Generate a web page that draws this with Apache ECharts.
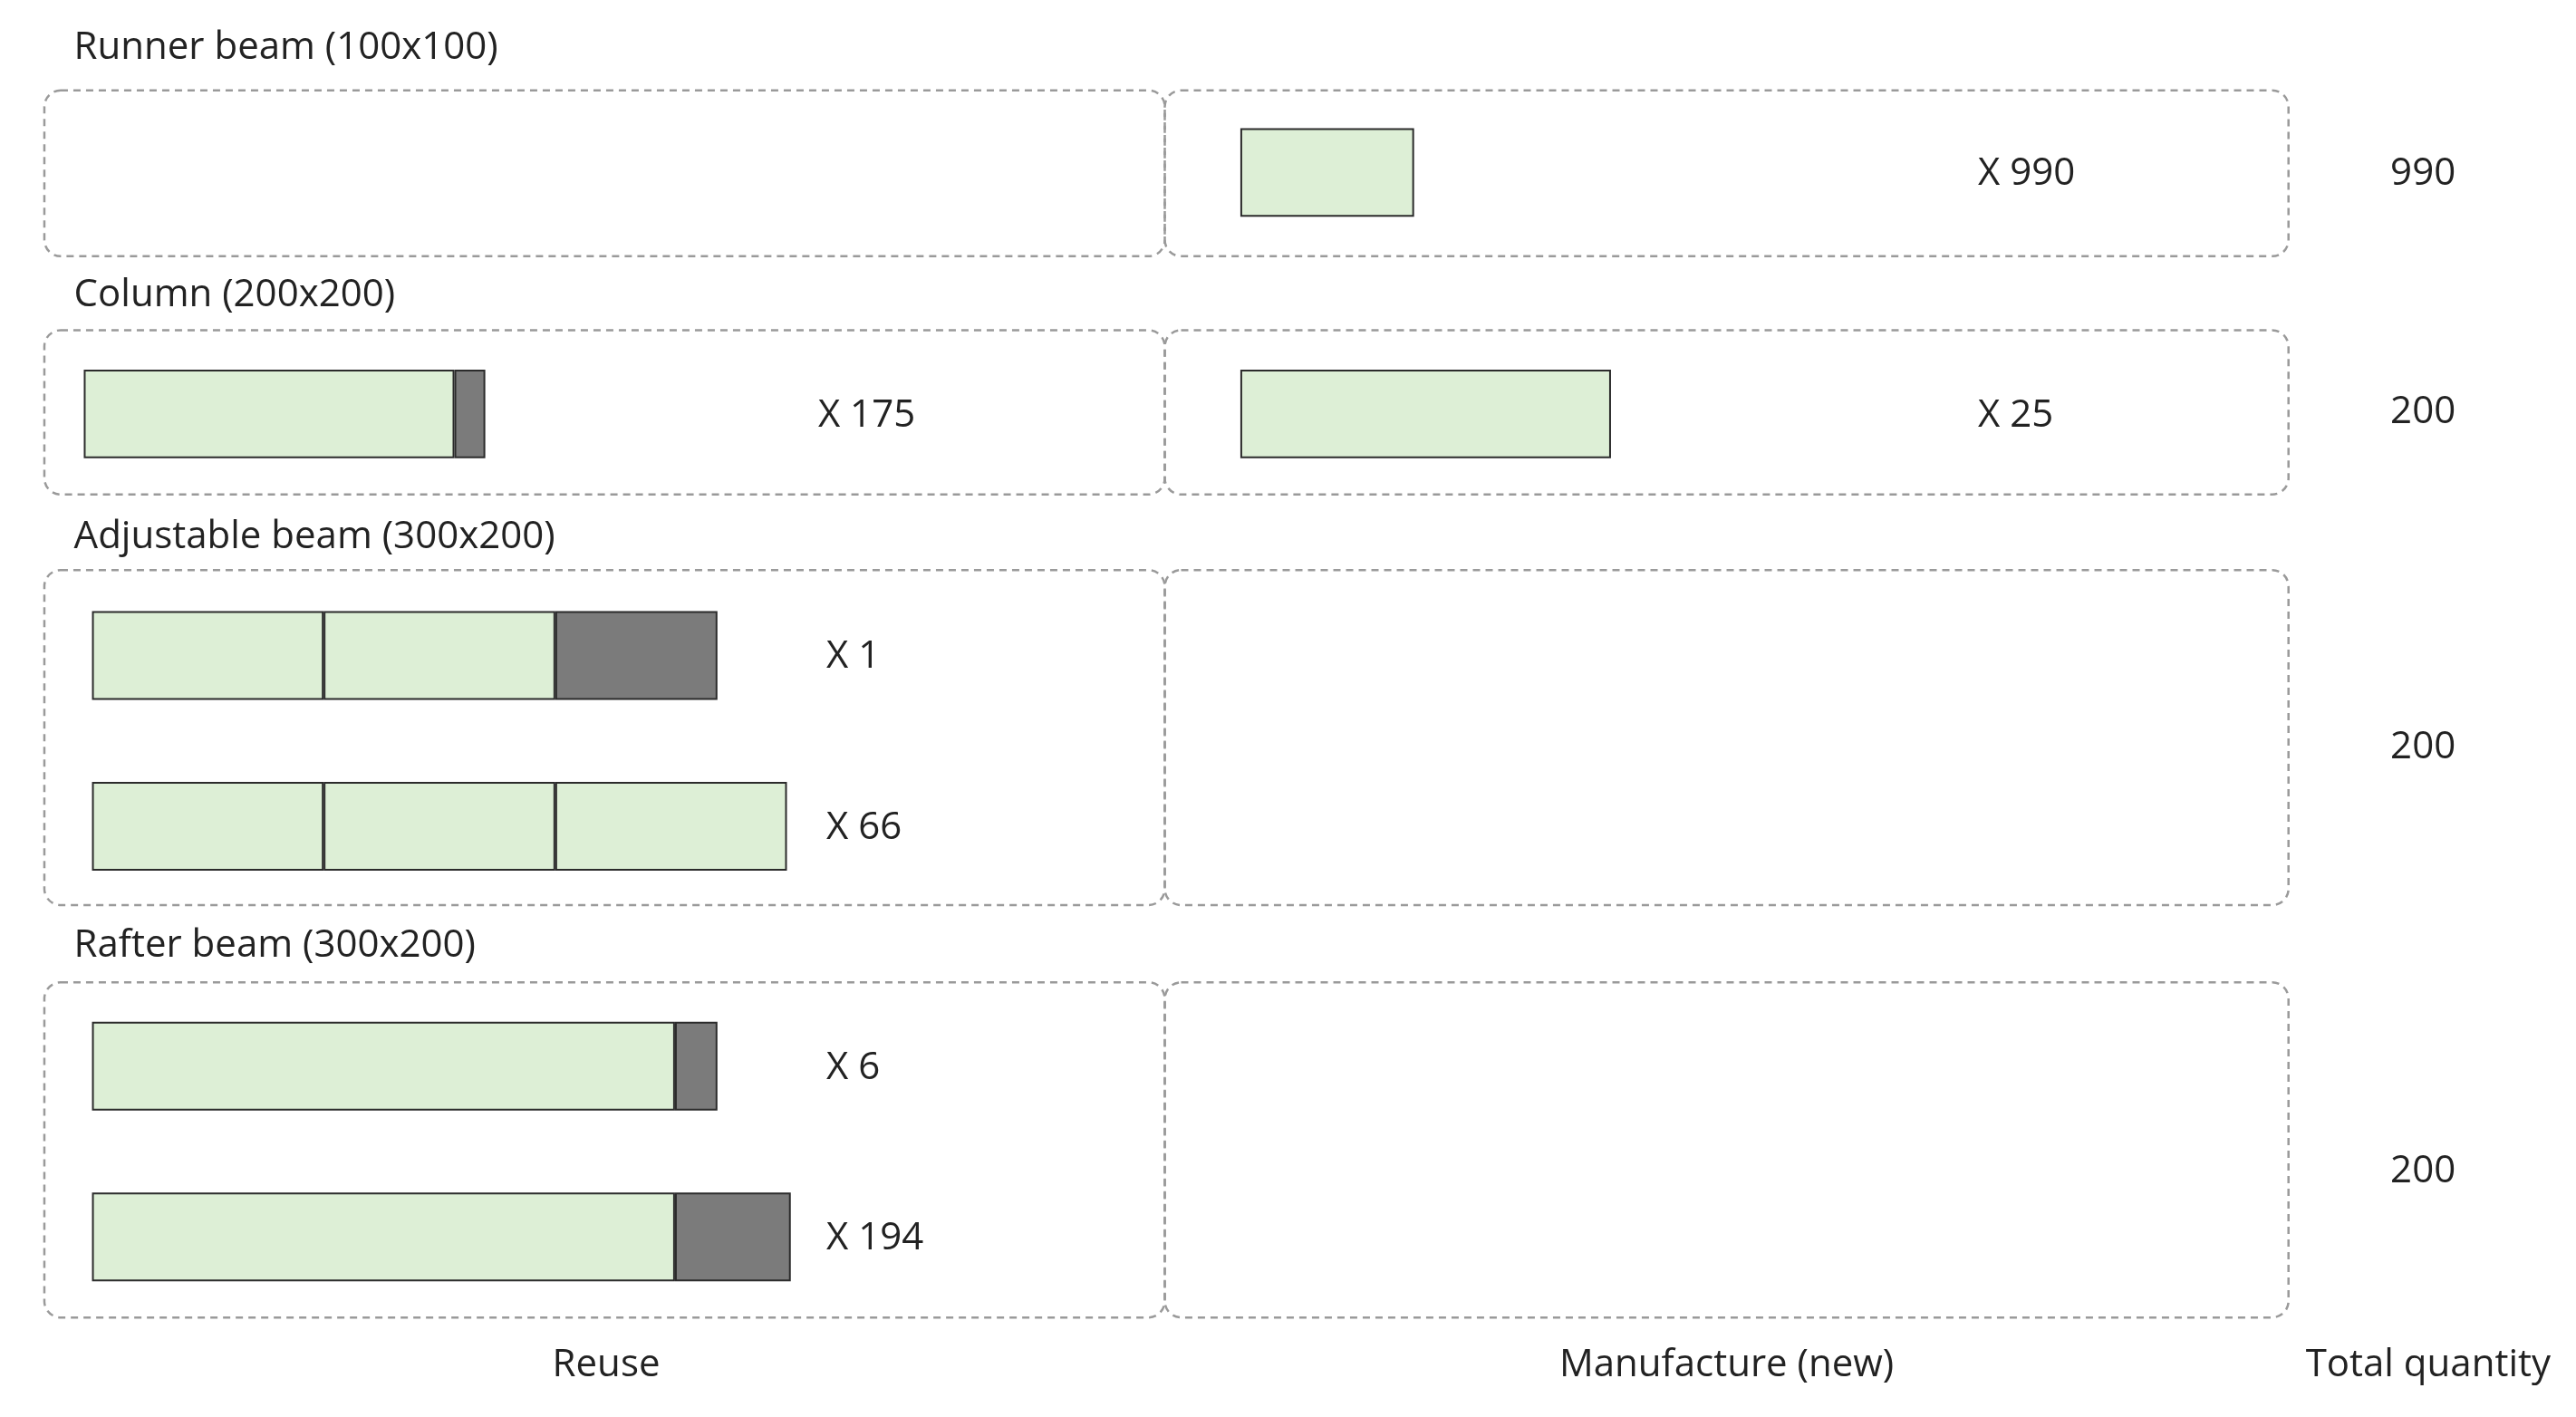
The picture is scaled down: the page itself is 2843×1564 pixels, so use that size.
<!DOCTYPE html>
<html>
<head>
<meta charset="utf-8">
<script src="https://cdn.jsdelivr.net/npm/echarts@6/dist/echarts.min.js"></script>
<style>html,body{margin:0;background:#fff}#c{width:2843px;height:1564px}</style>
</head>
<body>
<div id="c"></div>
<script>
// segment lengths in metres, green = usable, grey = offcut
var rowNames = ['runnerNew', 'columnReuse', 'columnNew', 'adj1', 'adj2', 'raft1', 'raft2'];
var segValues = [[2.25], [4.8, 0.4], [4.8], [3, 3, 2.1], [3, 3, 3], [7.55, 0.55], [7.55, 1.5]];
var segKinds = [['g'], ['g', 'x'], ['g'], ['g', 'g', 'x'], ['g', 'g', 'g'], ['g', 'x'], ['g', 'x']];
var counts = ['X 990', 'X 175', 'X 25', 'X 1', 'X 66', 'X 6', 'X 194'];
var groupTitles = ['Runner beam (100x100)', 'Column (200x200)', 'Adjustable beam (300x200)', 'Rafter beam (300x200)'];
var totals = ['990', '200', '200', '200'];
var columnTitles = ['Reuse', 'Manufacture (new)', 'Total quantity'];

var s = 2843 / 1568;
var font = '"Open Sans", "Liberation Sans", sans-serif';
var fs = 42;
var rowX = [755, 51, 755, 56, 56, 56, 56];
var rowY = [105, 252, 252, 399, 503, 649, 753];
var countX = [1204, 498, 1204, 503, 503, 503, 503];
var pxPerM = 47;

function label(x, y, text, align) {
  return {type: 'text', x: x * s, y: y * s,
    style: {text: text, font: fs + 'px ' + font, fill: '#222', align: align || 'left', verticalAlign: 'middle'}};
}

var grids = [], xAxes = [], yAxes = [], series = [], graphic = [];
rowNames.forEach(function(name, i) {
  grids.push({left: rowX[i] * s, top: (rowY[i] - 28) * s, width: 10 * pxPerM * s, height: 56 * s});
  xAxes.push({type: 'value', gridIndex: i, min: 0, max: 10, show: false});
  yAxes.push({type: 'category', gridIndex: i, data: [name], show: false});
  segValues[i].forEach(function(v, j) {
    series.push({
      type: 'bar', xAxisIndex: i, yAxisIndex: i, stack: name, barWidth: 54 * s,
      data: [v], silent: true,
      itemStyle: {color: segKinds[i][j] === 'g' ? '#ddefd6' : '#7b7b7b', borderColor: '#2b2b2b', borderWidth: 2}
    });
  });
  graphic.push(label(countX[i], rowY[i] + 1, counts[i]));
});

var boxY = [[55, 156], [201, 301], [347, 551], [598, 802]];
var titleY = [29, 180, 327, 576];
var totalY = [106, 251, 455, 713];
boxY.forEach(function(b, k) {
  [[27, 709], [709, 1393]].forEach(function(xx) {
    graphic.push({type: 'rect', shape: {x: xx[0] * s, y: b[0] * s, width: (xx[1] - xx[0]) * s, height: (b[1] - b[0]) * s, r: 18},
      style: {fill: 'none', stroke: '#9a9a9a', lineWidth: 2.5, lineDash: [8, 6]}});
  });
  graphic.push(label(45, titleY[k], groupTitles[k]));
  graphic.push(label(1455, totalY[k], totals[k]));
});
[369, 1051, 1478].forEach(function(cx, k) {
  graphic.push(label(cx, 831, columnTitles[k], 'center'));
});

var chart = echarts.init(document.getElementById('c'));
chart.setOption({animation: false, grid: grids, xAxis: xAxes, yAxis: yAxes, series: series, graphic: graphic});
</script>
</body>
</html>
